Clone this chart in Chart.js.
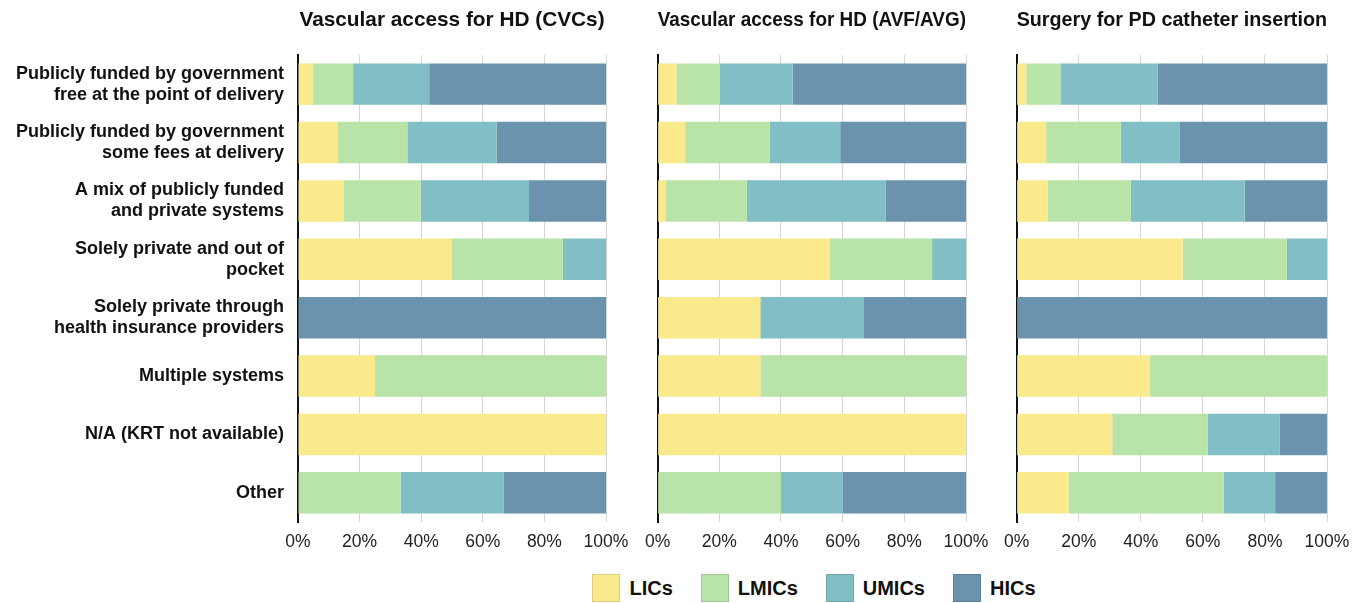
<!DOCTYPE html>
<html>
<head>
<meta charset="utf-8">
<script src="https://cdn.jsdelivr.net/npm/chart.js@4/dist/chart.umd.min.js"></script>
<style>
  html, body { margin: 0; padding: 0; background: #fff; }
  body { width: 1362px; height: 603px; position: relative; overflow: hidden; font-family: "Liberation Sans", Arial, sans-serif; }
  .panel { position: absolute; top: 0; height: 571px; }
  #legend { position: absolute; left: 0; width: 1362px; top: 574px; display: flex; justify-content: center; padding-left: 266px; box-sizing: border-box; }
  .item { display: flex; align-items: center; margin: 0 14px; font-weight: bold; font-size: 20px; color: #111; }
  .box { width: 28px; height: 28px; margin-right: 9px; box-sizing: border-box; border: 1px solid rgba(0,0,0,0.12); }
</style>
</head>
<body>
<div class="panel" style="left:0;width:640px"><canvas id="c1"></canvas></div>
<div class="panel" style="left:635px;width:364px"><canvas id="c2"></canvas></div>
<div class="panel" style="left:994px;width:368px"><canvas id="c3"></canvas></div>
<div id="legend"></div>
<script>
const categories = [
  ['Publicly funded by government', 'free at the point of delivery'],
  ['Publicly funded by government', 'some fees at delivery'],
  ['A mix of publicly funded', 'and private systems'],
  ['Solely private and out of', 'pocket'],
  ['Solely private through', 'health insurance providers'],
  'Multiple systems',
  'N/A (KRT not available)',
  'Other'
];
const groups = ['LICs', 'LMICs', 'UMICs', 'HICs'];
const groupColors = ['#f9ea8c', '#b8e3a9', '#81bec5', '#6c93ad'];
const xTicks = [0, 20, 40, 60, 80, 100];

const titles = [
  'Vascular access for HD (CVCs)',
  'Vascular access for HD (AVF/AVG)',
  'Surgery for PD catheter insertion'
];

// percent shares per row: LICs, LMICs, UMICs, HICs
const cvcLIC  = [4.7, 12.8, 14.9, 50, 0, 25, 100, 0];
const cvcLMIC = [13.2, 22.7, 24.9, 36, 0, 75, 0, 33.3];
const cvcUMIC = [24.7, 29.0, 35.2, 14, 0, 0, 0, 33.4];
const cvcHIC  = [57.4, 35.5, 25.0, 0, 100, 0, 0, 33.3];

const avfLIC  = [6.1, 8.9, 2.5, 55.8, 33.3, 33.3, 100, 0];
const avfLMIC = [14.1, 27.4, 26.4, 33.2, 0, 66.7, 0, 40];
const avfUMIC = [23.6, 22.9, 45.1, 11.0, 33.4, 0, 0, 20];
const avfHIC  = [56.2, 40.8, 26.0, 0, 33.3, 0, 0, 40];

const pdLIC  = [3.1, 9.5, 10.0, 53.5, 0, 42.9, 30.8, 16.7];
const pdLMIC = [11.0, 24.0, 26.8, 33.5, 0, 57.1, 30.8, 50];
const pdUMIC = [31.4, 19.1, 36.7, 13.0, 0, 0, 23.1, 16.6];
const pdHIC  = [54.5, 47.4, 26.5, 0, 100, 0, 15.3, 16.7];

const panelData = [
  [cvcLIC, cvcLMIC, cvcUMIC, cvcHIC],
  [avfLIC, avfLMIC, avfUMIC, avfHIC],
  [pdLIC, pdLMIC, pdUMIC, pdHIC]
];

function makeChart(id, idx, yWidth, showLabels, padRight) {
  const ctx = document.getElementById(id).getContext('2d');
  return new Chart(ctx, {
    type: 'bar',
    data: {
      labels: categories,
      datasets: groups.map((g, i) => ({
        label: g,
        data: panelData[idx][i],
        backgroundColor: groupColors[i],
        borderWidth: 0,
        barPercentage: 0.71,
        categoryPercentage: 1
      }))
    },
    options: {
      indexAxis: 'y',
      responsive: true,
      maintainAspectRatio: false,
      animation: false,
      layout: { padding: { top: 6, right: padRight, bottom: 8, left: 0 } },
      plugins: {
        legend: { display: false },
        tooltip: { enabled: false },
        title: {
          display: true,
          text: titles[idx],
          fullSize: false,
          color: '#111',
          font: { family: '"Liberation Sans", Arial, sans-serif', size: 20.8, weight: 'bold' },
          padding: { top: 2, bottom: 22 }
        }
      },
      scales: {
        x: {
          stacked: true,
          min: 0,
          max: 100,
          afterBuildTicks: s => { s.ticks = xTicks.map(v => ({ value: v })); },
          grid: { color: '#d6d6d6', lineWidth: 1, drawTicks: false },
          border: { display: false },
          ticks: {
            color: '#222',
            padding: 10,
            font: { family: '"Liberation Sans", Arial, sans-serif', size: 17.5 },
            callback: v => v + '%'
          }
        },
        y: {
          stacked: true,
          grid: { display: false, drawTicks: false },
          border: { display: true, color: '#111', width: 2 },
          afterFit: s => { s.width = yWidth; },
          ticks: {
            display: showLabels,
            color: '#111',
            padding: 14,
            font: { family: '"Liberation Sans", Arial, sans-serif', size: 18, weight: 'bold', lineHeight: 1.17 }
          }
        }
      }
    }
  });
}

makeChart('c1', 0, 298, true, 34);
makeChart('c2', 1, 21, false, 33);
makeChart('c3', 2, 21, false, 35);

// legend
const legend = document.getElementById('legend');
groups.forEach((g, i) => {
  const item = document.createElement('div');
  item.className = 'item';
  const box = document.createElement('div');
  box.className = 'box';
  box.style.background = groupColors[i];
  const label = document.createElement('span');
  label.textContent = g;
  item.appendChild(box);
  item.appendChild(label);
  legend.appendChild(item);
});
</script>
</body>
</html>
